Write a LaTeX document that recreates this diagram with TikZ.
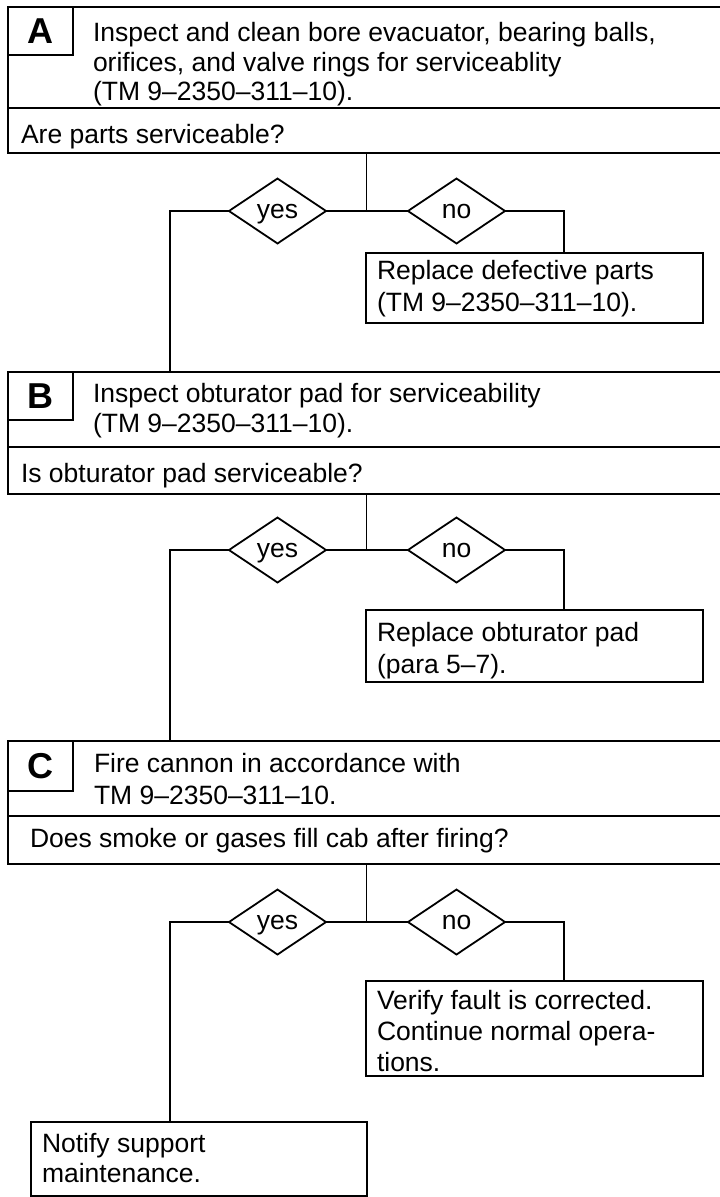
\documentclass[tikz,border=0pt]{standalone}
\usepackage{fontspec}
\setmainfont{Liberation Sans}
\usetikzlibrary{shapes.geometric}
\begin{document}
\begin{tikzpicture}[x=1pt,y=-1pt,
  frame/.style={draw, line width=2.4pt, inner sep=0pt, outer sep=0pt, anchor=north west},
  rule/.style={line width=2.4pt},
  link/.style={line width=1.8pt},
  txt/.style={anchor=base west, inner sep=0pt, outer sep=0pt, font=\fontsize{26.5}{31}\selectfont},
  tag/.style={frame, minimum width=65pt, minimum height=48pt, font=\fontsize{36}{36}\selectfont\bfseries},
  choice/.style={diamond, draw, line width=1.8pt, minimum width=97pt, minimum height=65pt, inner sep=0pt, outer sep=0pt, text depth=0pt, font=\fontsize{26.5}{26.5}\selectfont}]
\useasboundingbox (0,0) rectangle (720,1197);
\clip (0,0) rectangle (720,1197);
\coordinate (xl) at (170,0);
\coordinate (xr) at (564,0);

% ---------- Box A
\node[frame, minimum width=732pt, minimum height=146pt] (boxA) at (8,7) {};
\draw[rule] (8,108) -- (740,108);
\node[tag] (tagA) at (8,7) {A};
\node[txt] (a1) at (93,41) {Inspect and clean bore evacuator, bearing balls,};
\node[txt] (a2) at (93,71) {orifices, and valve rings for serviceablity};
\node[txt] (a3) at (93,100) {(TM 9–2350–311–10).};
\node[txt] (aq) at (21,143) {Are parts serviceable?};

\node[choice] (yesA) at (277.5,211) {yes};
\node[choice] (noA) at (456.5,211) {no};
\coordinate (jA) at (366.5,211);
\node[frame, minimum width=337pt, minimum height=70pt] (repA) at (366,253) {};
\node[txt] (r1) at (377,279) {Replace defective parts};
\node[txt] (r2) at (377,311) {(TM 9–2350–311–10).};

% ---------- Box B
\node[frame, minimum width=732pt, minimum height=122pt] (boxB) at (8,372) {};
\draw[rule] (8,447) -- (740,447);
\node[tag] (tagB) at (8,372) {B};
\node[txt] (b1) at (93,402) {Inspect obturator pad for serviceability};
\node[txt] (b2) at (93,432) {(TM 9–2350–311–10).};
\node[txt] (bq) at (21,482) {Is obturator pad serviceable?};

\node[choice] (yesB) at (277.5,550) {yes};
\node[choice] (noB) at (456.5,550) {no};
\coordinate (jB) at (366.5,550);
\node[frame, minimum width=337pt, minimum height=72pt] (repB) at (366,610) {};
\node[txt] (s1) at (377,641) {Replace obturator pad};
\node[txt] (s2) at (377,673) {(para 5–7).};

% ---------- Box C
\node[frame, minimum width=732pt, minimum height=123pt] (boxC) at (8,741) {};
\draw[rule] (8,816) -- (740,816);
\node[tag, minimum height=50pt] (tagC) at (8,741) {C};
\node[txt] (c1) at (94,772) {Fire cannon in accordance with};
\node[txt] (c2) at (94,804) {TM 9–2350–311–10.};
\node[txt] (cq) at (30,847) {Does smoke or gases fill cab after firing?};

\node[choice] (yesC) at (277.5,922) {yes};
\node[choice] (noC) at (456.5,922) {no};
\coordinate (jC) at (366.5,922);
\node[frame, minimum width=337pt, minimum height=95pt] (verify) at (366,981) {};
\node[txt] (v1) at (377,1009) {Verify fault is corrected.};
\node[txt] (v2) at (377,1040) {Continue normal opera-};
\node[txt] (v3) at (377,1071) {tions.};
\node[frame, minimum width=336pt, minimum height=74pt] (notify) at (31,1122) {};
\node[txt] (n1) at (42,1152) {Notify support};
\node[txt] (n2) at (42,1182) {maintenance.};

% ---------- connectors
\draw[link] (boxA.south -| jA) -- (jA);
\draw[link] (yesA.east) -- (noA.west);
\draw[link] (noA.east) -| (repA.north -| xr);
\draw[link] (yesA.west) -| (boxB.north -| xl);

\draw[link] (boxB.south -| jB) -- (jB);
\draw[link] (yesB.east) -- (noB.west);
\draw[link] (noB.east) -| (repB.north -| xr);
\draw[link] (yesB.west) -| (boxC.north -| xl);

\draw[link] (boxC.south -| jC) -- (jC);
\draw[link] (yesC.east) -- (noC.west);
\draw[link] (noC.east) -| (verify.north -| xr);
\draw[link] (yesC.west) -| (notify.north -| xl);
\end{tikzpicture}
\end{document}
